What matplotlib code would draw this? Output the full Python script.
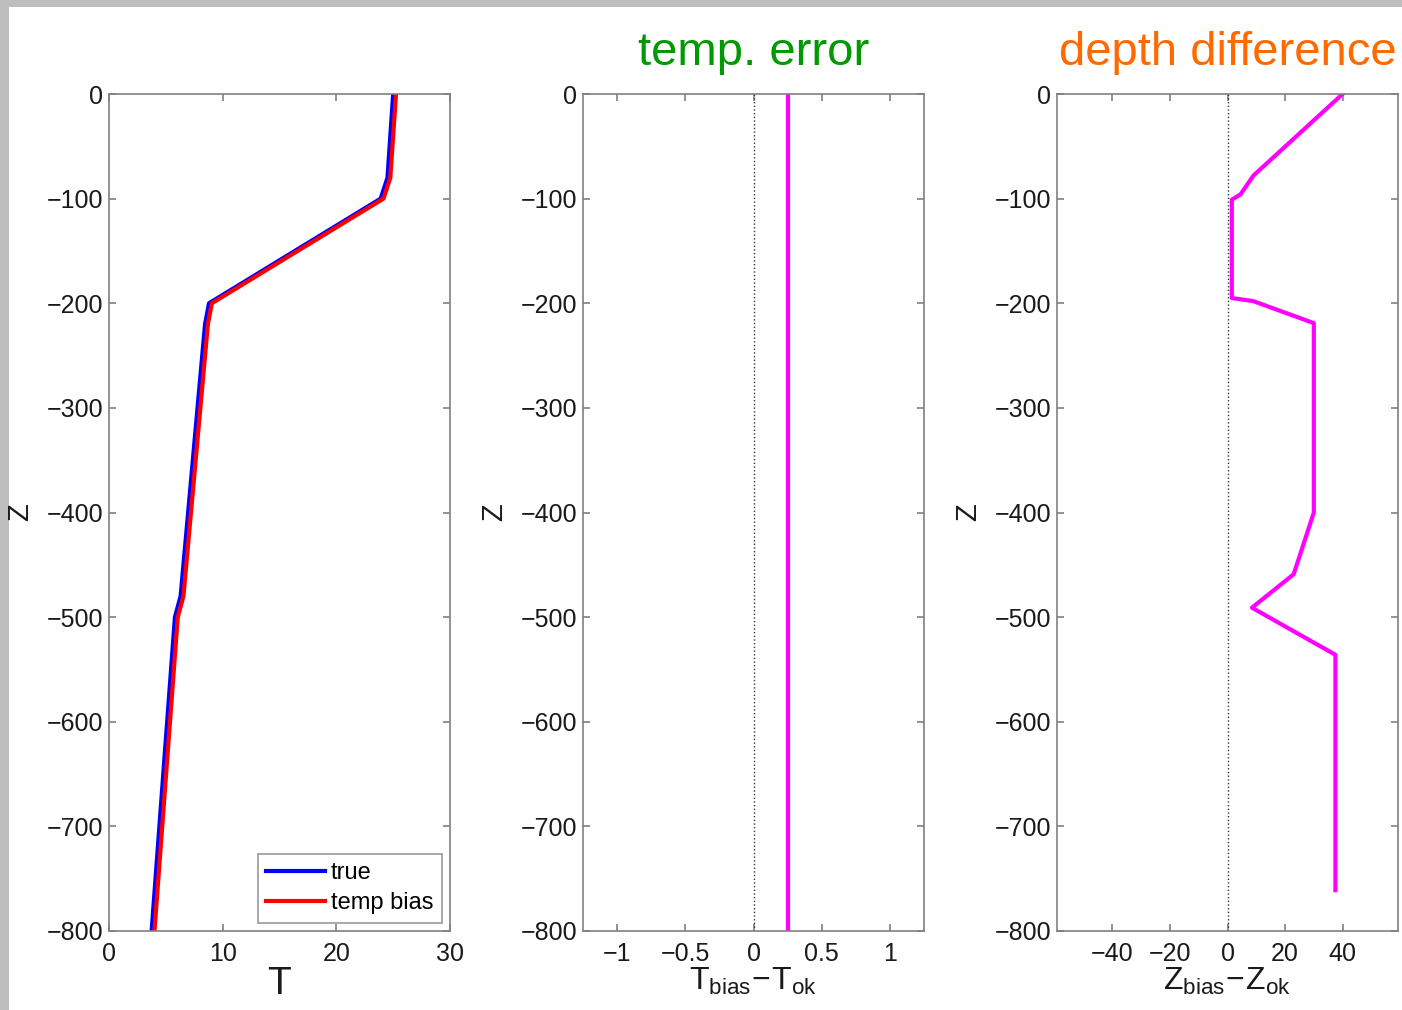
import matplotlib.pyplot as plt
from matplotlib.patches import Rectangle

plt.rcParams['font.family'] = ['Liberation Sans', 'DejaVu Sans']

# temperature profile (true) and the biased copy
z_true = [0, -80, -100, -200, -220, -480, -500, -800]
t_true = [25, 24.5, 23.9, 8.8, 8.45, 6.3, 5.8, 3.75]
t_bias_offset = 0.25
t_bias = [t + t_bias_offset for t in t_true]

# temperature error along depth
z_err = [0, -800]
t_err = [0.25, 0.25]

# depth difference for the biased profile
z_diff = [0, -78, -96, -101, -195, -198, -219, -400, -459, -491, -536, -761]
d_diff = [40, 9, 4.5, 1.5, 1.5, 9, 30, 30, 23, 8.5, 37.5, 37.5]

W, H = 1402, 1010
fig = plt.figure(figsize=(W / 100, H / 100), dpi=100)
fig.patch.set_facecolor('#bebebe')
fig.add_artist(Rectangle((9 / W, 0), 1, 1 - 7 / H, transform=fig.transFigure,
                         facecolor='white', edgecolor='none', zorder=0))

ax_w = 341 / W
ax_h = 837 / H
bottom = 1 - 931 / H
lefts = [109 / W, 583 / W, 1057 / W]
axes = [fig.add_axes([l, bottom, ax_w, ax_h]) for l in lefts]

spine_col = '#808080'
txt_col = '#1a1a1a'


def style(ax):
    ax.set_ylim(-800, 0)
    ax.set_yticks(range(-800, 1, 100))
    for s in ax.spines.values():
        s.set_color(spine_col)
        s.set_linewidth(1.2)
    ax.tick_params(direction='in', length=5, width=1.2, color=spine_col,
                   labelsize=18, labelcolor=txt_col, top=True, right=True)
    ax.tick_params(axis='y', pad=4)
    ax.tick_params(axis='x', pad=8)
    ax.set_ylabel('Z', fontsize=21, color=txt_col, va='center')
    ax.yaxis.set_label_coords(-89 / 341, 0.5)


# left panel: profiles
ax = axes[0]
ax.plot(t_true, z_true, color='#0000ff', lw=3, label='true')
ax.plot(t_bias, z_true, color='#ff0000', lw=3, label='temp bias')
ax.set_xlim(0, 30)
ax.set_xticks([0, 10, 20, 30])
style(ax)
ax.set_xlabel('T', fontsize=28, color=txt_col)
ax.xaxis.set_label_coords(0.5, -0.042)
leg = ax.legend(loc='lower right', fontsize=17, frameon=True, fancybox=False,
                borderaxespad=0.35, handlelength=2.5, handletextpad=0.25,
                labelspacing=0.35, borderpad=0.35)
leg.get_frame().set_edgecolor(spine_col)
leg.get_frame().set_linewidth(1.2)

# middle panel: temperature error
ax = axes[1]
ax.axvline(0, color='#333333', lw=1, ls=':')
ax.plot(t_err, z_err, color='#ff00ff', lw=3)
ax.set_xlim(-1.25, 1.25)
ax.set_xticks([-1, -0.5, 0, 0.5, 1])
ax.set_xticklabels(['\u22121', '\u22120.5', '0', '0.5', '1'])
style(ax)
ax.set_xlabel(r'$\mathregular{T_{bias}\!-\!T_{ok}}$', fontsize=23, color=txt_col)
ax.xaxis.set_label_coords(0.5, -0.042)
ax.text(0.5, 1 + 29 / 837, 'temp. error', transform=ax.transAxes,
        ha='center', va='baseline', fontsize=34, color='#009a00')

# right panel: depth difference
ax = axes[2]
ax.axvline(0, color='#333333', lw=1, ls=':')
ax.plot(d_diff, z_diff, color='#ff00ff', lw=3)
ax.set_xlim(-59.25, 59.25)
ax.set_xticks([-40, -20, 0, 20, 40])
style(ax)
ax.set_xlabel(r'$\mathregular{Z_{bias}\!-\!Z_{ok}}$', fontsize=23, color=txt_col)
ax.xaxis.set_label_coords(0.5, -0.042)
ax.text(0.5, 1 + 29 / 837, 'depth difference', transform=ax.transAxes,
        ha='center', va='baseline', fontsize=34, color='#ff6a00')

fig.savefig('out.png', dpi=100, facecolor=fig.get_facecolor())
